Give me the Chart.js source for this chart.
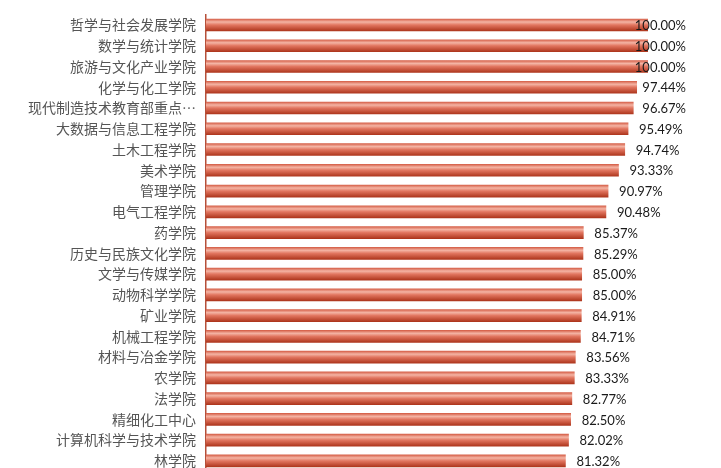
<!DOCTYPE html>
<html>
<head>
<meta charset="utf-8">
<script src="https://cdn.jsdelivr.net/npm/chart.js@4"></script>
<style>
  html, body { margin: 0; padding: 0; background: #fff; overflow: hidden; }
  #wrap { width: 721px; height: 468px; overflow: hidden; }
  #myChart { display: block; margin-top: -10px; }
</style>
</head>
<body>
<div id="wrap"><canvas id="myChart" width="721" height="510"></canvas></div>
<script>
const colleges = ['哲学与社会发展学院', '数学与统计学院', '旅游与文化产业学院', '化学与化工学院',
    '现代制造技术教育部重点…', '大数据与信息工程学院', '土木工程学院', '美术学院', '管理学院',
    '电气工程学院', '药学院', '历史与民族文化学院', '文学与传媒学院', '动物科学学院', '矿业学院',
    '机械工程学院', '材料与冶金学院', '农学院', '法学院', '精细化工中心', '计算机科学与技术学院', '林学院'];
const rates = [100.00, 100.00, 100.00, 97.44, 96.67, 95.49, 94.74, 93.33, 90.97, 90.48, 85.37,
    85.29, 85.00, 85.00, 84.91, 84.71, 83.56, 83.33, 82.77, 82.50, 82.02, 81.32];

const BAR_H = 12;

// cylinder-like shading for each bar
function barFill(ctx) {
    const chart = ctx.chart;
    if (!chart.chartArea || ctx.dataIndex === undefined) return '#d65a40';
    const y = chart.scales.y.getPixelForValue(ctx.dataIndex);
    const g = chart.ctx.createLinearGradient(0, y - BAR_H / 2, 0, y + BAR_H / 2);
    g.addColorStop(0, '#d6614a');
    g.addColorStop(0.25, '#f4b4a4');
    g.addColorStop(0.5, '#e27660');
    g.addColorStop(1, '#ae361d');
    return g;
}

// value labels after each bar, kept inside the right margin
const valueLabels = {
    id: 'valueLabels',
    afterDatasetsDraw(chart) {
        const c = chart.ctx;
        const meta = chart.getDatasetMeta(0);
        c.save();
        c.font = '13px Lato';
        c.fillStyle = '#1a1a1a';
        c.textBaseline = 'middle';
        meta.data.forEach(function(bar, i) {
            const txt = rates[i].toFixed(2) + '%';
            const w = c.measureText(txt).width;
            const x = Math.min(bar.x + 11, 686 - w);
            c.fillText(txt, x, bar.y + 1);
        });
        c.restore();
    }
};

new Chart(document.getElementById('myChart'), {
    type: 'bar',
    data: {
        labels: colleges,
        datasets: [{
            data: rates,
            backgroundColor: barFill,
            barThickness: BAR_H,
            borderWidth: 0
        }]
    },
    options: {
        indexAxis: 'y',
        responsive: false,
        animation: false,
        devicePixelRatio: 1,
        layout: { padding: { top: 24.6, bottom: 28.7, left: 0, right: 73 } },
        plugins: { legend: { display: false }, tooltip: { enabled: false } },
        scales: {
            x: { display: false, min: 0, max: 100 },
            y: {
                afterFit(scale) { scale.width = 206; },
                grid: { display: false, drawTicks: false },
                border: { display: true, color: '#b5503a', width: 1.5 },
                ticks: {
                    autoSkip: false,
                    padding: 10,
                    color: '#555555',
                    font: { family: '"Noto Sans CJK SC"', size: 14 }
                }
            }
        }
    },
    plugins: [valueLabels]
});
</script>
</body>
</html>
